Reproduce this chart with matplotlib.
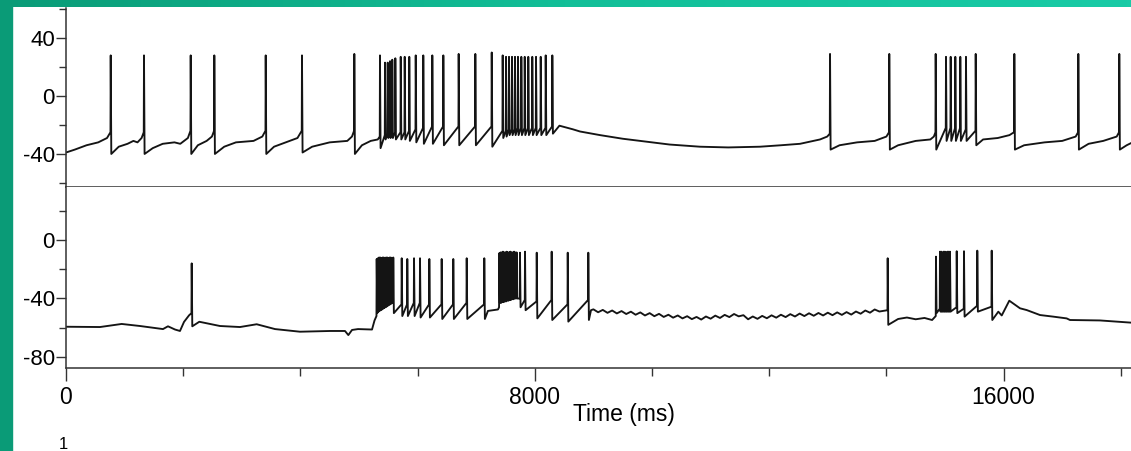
import matplotlib.pyplot as plt
import numpy as np

# ---- datos (tiempo en ms, voltaje en mV) ----

# traza superior: potenciales de accion
top_spike_t = [763, 1331, 2128, 2531, 3408, 4027, 4920,
               5358, 5444, 5490, 5529, 5568, 5620, 5712, 5780, 5858, 5968, 6097, 6251, 6439, 6701, 6985,
               7265, 7452, 7509, 7560, 7611, 7662, 7713, 7770, 7828, 7889, 7957, 8021, 8101, 8186, 8299,
               13038, 14049, 14841, 15017, 15097, 15176, 15261, 15358, 15524, 16183, 17275, 17974]
top_spike_peak = [28, 28, 28, 28, 28, 28, 29,
                  28, 23, 23, 24, 25, 26, 27, 27, 27, 28, 28, 28, 28, 29, 29,
                  30, 28, 27, 27, 27, 27, 27, 27, 27, 27, 27, 27, 27, 28, 28,
                  29, 29, 29, 27, 27, 27, 27, 27, 29, 29, 29, 29]
top_spike_thr = [-25, -25, -24, -24, -24, -24, -24,
                 -28, -27, -26, -26, -26, -25, -25, -25, -24, -23, -22, -21, -21, -21, -21,
                 -21, -24, -24, -23, -23, -23, -22, -22, -22, -22, -22, -22, -22, -22, -21,
                 -26, -25, -25, -22, -22, -22, -22, -23, -24, -25, -25, -25]
top_spike_ahp = [-40, -40, -40, -40, -40, -39, -40,
                 -36, -30, -29, -29, -29, -30, -30, -30, -31, -32, -33, -33, -34, -34, -34,
                 -35, -29, -28, -27, -27, -27, -27, -27, -27, -27, -27, -27, -27, -27, -26,
                 -37, -37, -37, -31, -31, -31, -31, -31, -34, -37, -37, -37]
# traza superior: potencial subumbral
top_base_t = [0, 150, 350, 550, 700,
              900, 1050, 1150, 1220, 1290,
              1480, 1650, 1850, 1950, 2080,
              2250, 2400, 2490,
              2700, 2900, 3200, 3350,
              3550, 3750, 3950,
              4200, 4500, 4800, 4880,
              5050, 5200, 5320,
              8420, 8650, 8771, 9113, 9500, 9795, 10300, 10819, 11300, 11843, 12200, 12526, 12867, 12990,
              13200, 13500, 13800, 14000,
              14200, 14500, 14750, 14810,
              15650, 15900, 16100,
              16350, 16700, 17000, 17230,
              17450, 17700, 17930,
              18100, 18200]
top_base_v = [-39, -37, -34, -32, -29,
              -35, -33, -31, -32, -29,
              -36, -33, -32, -33, -29,
              -34, -31, -28,
              -35, -32, -31, -28,
              -35, -32, -29,
              -35, -32, -31, -28,
              -34, -31, -30,
              -20.5, -23, -24.5, -27, -29.5, -31, -33.5, -35, -35.5, -35, -34, -33, -30, -28,
              -34, -32, -31, -28,
              -34, -31, -30, -28,
              -30, -29, -27,
              -34, -32, -31, -28,
              -33, -31, -28,
              -34, -32]

# traza inferior: potenciales de accion
bot_spike_t = [2145,
               5302, 5322, 5342, 5362, 5382, 5402, 5422, 5442, 5462, 5482, 5502, 5522, 5542, 5562, 5585,
               5729, 5824, 5939, 6041, 6200, 6411, 6609, 6838, 7138,
               7394, 7415, 7436, 7457, 7478, 7499, 7520, 7541, 7562, 7583, 7604, 7625, 7646, 7667, 7690,
               7747, 7833, 8033, 8288, 8562, 8913,
               14022,
               14846, 14914, 14935, 14956, 14978, 14999, 15020, 15042, 15063, 15085,
               15200, 15324, 15551, 15797]
bot_spike_peak = [-16,
                  -13, -12.5, -12, -12, -12.5, -12, -12, -12.5, -12, -12, -12.5, -12, -12, -12.5, -12,
                  -12.5, -13, -12.5, -12.5, -13, -13, -13, -12.5, -12.5,
                  -9, -8.5, -8.5, -8, -8.5, -8.5, -8, -8.5, -8.5, -8, -8.5, -8.5, -8, -8.5, -8.5,
                  -8.7, -8, -8.7, -8, -8.7, -8.7,
                  -12.5,
                  -11.4, -8, -8, -8.5, -8, -8, -8.5, -8, -8, -8,
                  -7.7, -7.7, -7.3, -7.3]
bot_spike_thr = [-50,
                 -52, -47, -46.5, -46, -45.5, -45, -44.5, -44, -43.5, -43, -42.5, -42, -41.5, -41, -41,
                 -44, -44, -43, -43, -44, -44, -44, -43, -44,
                 -46, -41, -40.5, -40.5, -40, -40, -39.5, -39.5, -39, -39, -38.5, -38.5, -38, -38, -38,
                 -40, -41, -42, -41, -44, -41,
                 -48,
                 -52, -47, -46, -46, -46, -46, -46, -46, -46, -46,
                 -46, -47, -45, -45.6]
bot_spike_ahp = [-59,
                 -50, -49, -48.5, -48, -47.5, -47, -46.5, -46, -45.5, -45, -44.5, -44, -43.5, -43, -50,
                 -52, -52, -52, -53, -53, -54, -54, -54, -54,
                 -43, -43, -42.5, -42.5, -42, -42, -41.5, -41.5, -41, -41, -40.5, -40.5, -40, -40, -40,
                 -46, -48, -53.6, -54.7, -55.8, -54.7,
                 -58,
                 -50, -49, -49, -49, -49, -49, -49, -49, -49, -49,
                 -50, -52.4, -49, -54.7]
# traza inferior: potencial subumbral
bot_base_t = [0, 580, 950, 1263, 1655, 1740, 1860, 1945, 2014, 2100,
              2275, 2628, 2969, 3254, 3567, 3993, 4505, 4761, 4818, 4881, 4983, 5222, 5265,
              7200, 7372,
              8959,
              14200, 14350, 14500, 14650, 14780,
              15910, 15968, 16097, 16280, 16394, 16621, 16848, 17076, 17133, 17645, 18174]
bot_base_v = [-59.3, -59.5, -57.4, -58.8, -60.9, -59, -61.2, -62.2, -56, -51.5,
              -55.9, -58.8, -59.5, -57.6, -60.9, -62.7, -62.2, -62.2, -65, -61.5, -60.9, -61.2, -55,
              -48.5, -47.5,
              -48,
              -54, -53, -54.2, -53.3, -54.7,
              -49, -51.6, -41.5, -46.7, -47.9, -51.3, -52.4, -53.6, -54.7, -55, -56.5]
# ondulacion de la meseta entre 9 s y 14 s
bot_ripple_t = [9000, 9080, 9160, 9240, 9320, 9400, 9480, 9560, 9640, 9720,
                9800, 9880, 9960, 10040, 10120, 10200, 10280, 10360, 10440, 10520,
                10600, 10680, 10760, 10840, 10920, 11000, 11080, 11160, 11240, 11320,
                11400, 11480, 11560, 11640, 11720, 11800, 11880, 11960, 12040, 12120,
                12200, 12280, 12360, 12440, 12520, 12600, 12680, 12760, 12840, 12920,
                13000, 13080, 13160, 13240, 13320, 13400, 13480, 13560, 13640, 13720,
                13800, 13880]
bot_ripple_v = [-47.4, -49.4, -47.8, -49.8, -48.2, -50.2, -48.6, -50.6, -49.0, -51.1,
                -49.5, -51.6, -50.0, -52.1, -50.5, -52.6, -51.1, -53.1, -51.6, -53.6,
                -52.1, -54.1, -52.6, -54.4, -52.3, -53.8, -51.7, -53.3, -51.2, -52.7,
                -50.6, -52.2, -51.4, -54.2, -52.3, -53.9, -51.9, -53.5, -51.5, -53.1,
                -51.1, -52.7, -50.7, -52.3, -50.3, -52.0, -50.1, -51.8, -49.9, -51.6,
                -49.7, -51.4, -49.5, -51.2, -49.3, -51.0, -48.9, -50.4, -48.2, -49.7,
                -47.5, -48.9]

x_major = [0, 8000, 16000]
x_minor = [2000, 4000, 6000, 10000, 12000, 14000, 18000]
top_major = [-40, 0, 40]
top_minor = [-60, -20, 20, 60]
bot_major = [-80, -40, 0]
bot_minor = [-60, -20, 20]


def build_trace(base_t, base_v, spk_t, spk_peak, spk_thr, spk_ahp):
    """Une la linea subumbral con los potenciales de accion."""
    pts = list(zip(base_t, base_v))
    for t, pk, th, ah in zip(spk_t, spk_peak, spk_thr, spk_ahp):
        pts += [(t - 4, th), (t, pk), (t + 10, ah)]
    pts.sort()
    t, v = zip(*pts)
    return np.array(t), np.array(v)


plt.rcParams['font.family'] = ['Liberation Sans', 'DejaVu Sans']
plt.rcParams['axes.unicode_minus'] = False

W, H = 1131, 451
fig = plt.figure(figsize=(W / 100, H / 100), dpi=100)
fig.patch.set_facecolor('white')

x0 = 66 / W
ax_top = fig.add_axes([x0, 1 - 187 / H, 1 - x0, 179 / H])
ax_bot = fig.add_axes([x0, 1 - 368 / H, 1 - x0, 181 / H])

tt, tv = build_trace(top_base_t, top_base_v, top_spike_t, top_spike_peak,
                     top_spike_thr, top_spike_ahp)
bt, bv = build_trace(bot_base_t + bot_ripple_t, bot_base_v + bot_ripple_v,
                     bot_spike_t, bot_spike_peak, bot_spike_thr, bot_spike_ahp)

ax_top.plot(tt, tv, color='#141414', lw=1.35)
ax_bot.plot(bt, bv, color='#141414', lw=1.35)

for ax in (ax_top, ax_bot):
    ax.set_xlim(0, 18174)
    ax.spines['right'].set_visible(False)
    ax.spines['top'].set_visible(False)
    ax.spines['left'].set_color('#333333')
    ax.spines['bottom'].set_color('#333333')
    ax.spines['left'].set_linewidth(1.1)
    ax.spines['bottom'].set_linewidth(1.1)
    ax.tick_params(axis='y', which='major', length=7, width=1, color='#333333',
                   labelsize=16, pad=1)
    ax.tick_params(axis='y', which='minor', length=5, width=1, color='#333333')

ax_top.set_ylim(-62.8, 60.7)
ax_top.set_yticks(top_major)
ax_top.set_yticks(top_minor, minor=True)
ax_top.set_xticks([])
ax_top.tick_params(axis='x', which='both', bottom=False, labelbottom=False)

ax_bot.set_ylim(-87.5, 36.2)
ax_bot.set_yticks(bot_major)
ax_bot.set_yticks(bot_minor, minor=True)
ax_bot.set_xticks(x_major)
ax_bot.set_xticks(x_minor, minor=True)
ax_bot.tick_params(axis='x', which='major', length=9, width=1, color='#333333',
                   labelsize=16.5, pad=4)
ax_bot.tick_params(axis='x', which='minor', length=6, width=1, color='#333333')

fig.text(624 / W, 1 - 415 / H, 'Time (ms)', ha='center', va='center', fontsize=16.5)
fig.text(63 / W, 1 - 437 / H, '1', ha='center', va='top', fontsize=12)

# marco verde del recorte
fig.patches.append(plt.Rectangle((0, 0), 12 / W, 1, transform=fig.transFigure,
                                 color='#0a9b77', zorder=10))
ax_band = fig.add_axes([0, 1 - 7 / H, 1, 7 / H], zorder=11)
ax_band.imshow(np.linspace(0, 1, 256).reshape(1, -1), aspect='auto',
               cmap=plt.matplotlib.colors.LinearSegmentedColormap.from_list(
                   'band', ['#0a9b77', '#12bf98', '#19cba6']))
ax_band.axis('off')

fig.savefig('out.png', dpi=100)
